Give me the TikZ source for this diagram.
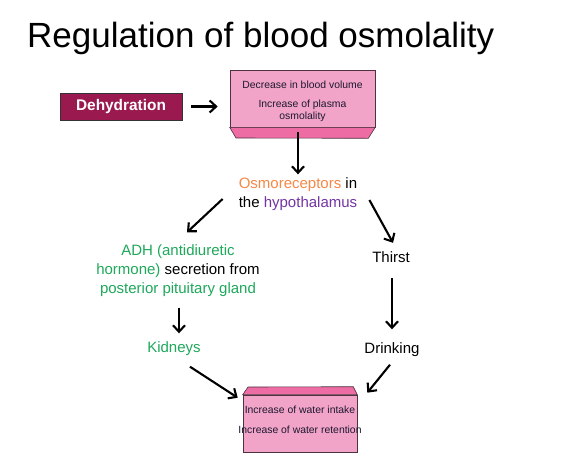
\documentclass[tikz,border=0pt]{standalone}
\usepackage{fontspec}
\setmainfont{Liberation Sans}
\usetikzlibrary{arrows.meta}
\definecolor{dehyd}{HTML}{9A1A4F}
\definecolor{pinkface}{HTML}{F2A4C8}
\definecolor{pinkstrip}{HTML}{EC6CA3}
\definecolor{boxline}{HTML}{4D3340}
\definecolor{boxtext}{HTML}{1C1830}
\definecolor{osmo}{HTML}{F58847}
\definecolor{hypo}{HTML}{7434A3}
\definecolor{adh}{HTML}{1DA85A}

\begin{document}
\begin{tikzpicture}[x=1pt,y=-1pt,
	arr/.style={line width=2.1pt,-{Straight Barb[length=6.5pt,width=12pt,line width=2.1pt]}},
	lbl/.style={font=\fontsize{15}{19}\selectfont, inner sep=3pt, text height=11pt, text depth=3pt},
	pinkbox/.style={draw=boxline, fill=pinkface, line width=.6pt, inner sep=0pt},
	boxtxt/.style={font=\fontsize{10.4}{12.5}\selectfont, text=boxtext, align=center, inner sep=1pt}]
				\useasboundingbox (0,0) rectangle (579,459);
				%% title
				\node[anchor=base west, inner sep=0pt, font=\fontsize{35}{40}\selectfont] (title) at (27,47) {Regulation of blood osmolality};
				%% top row
				\node[draw=black!80, fill=dehyd, text=white, line width=.6pt, minimum width=122pt, minimum height=27pt, inner sep=0pt, font=\fontsize{15.4}{18}\selectfont\bfseries] (dehydration) at (121,106.5) {Dehydration};
				\node[pinkbox, minimum width=145pt, minimum height=57pt] (box1) at (302.5,98.5) {};
				\draw[boxline, fill=pinkstrip, line width=.6pt] (box1.south west) -- (box1.south east) -- ++(-7,11) -- (236,138) -- cycle;
				\node[boxtxt] (box1txt) at (302.5,101.5) {Decrease in blood volume\\[6.5pt] Increase of plasma\\ osmolality};
				%% middle
				\node[lbl, align=left, text height=, text depth=] (osmo) at (298,194) {{\color{osmo}Osmoreceptors} in\\ the {\color{hypo}hypothalamus}};
				\node[lbl, align=center, text height=, text depth=] (adh) at (178,270.5) {{\color{adh}ADH (antidiuretic}\\ {\color{adh}hormone)} secretion from\\ {\color{adh}posterior pituitary gland}};
				\node[lbl] (thirst) at (391,258) {Thirst};
				\node[lbl, text=adh] (kidneys) at (174,348.5) {Kidneys};
				\node[lbl] (drinking) at (392,349.5) {Drinking};
				%% bottom box
				\node[pinkbox, minimum width=114pt, minimum height=57pt] (box2) at (300,423.5) {};
				\draw[boxline, fill=pinkstrip, line width=.6pt] (box2.north west) -- (box2.north east) -- ++(-4,-8) -- (248,387) -- cycle;
				\node[boxtxt] (box2txt) at (300,420) {Increase of water intake\\[7.5pt] Increase of water retention};
				%% arrows
				\draw[arr] (dehydration.east) ++(9,0) -- ([xshift=-12pt]box1.west |- dehydration.east);
				\draw[arr, shorten <=5pt] (box1.south -| osmo.north) -- (osmo.north);
				\draw[arr] ([xshift=-13pt,yshift=-5pt]osmo.west) -- ([xshift=9pt,yshift=9pt]adh.north);
				\draw[arr] ([xshift=9pt,yshift=-6pt]osmo.east) -- ([xshift=2pt,yshift=5pt]thirst.north);
				\draw[arr, shorten <=10pt, shorten >=10pt] (thirst.south -| drinking) -- (drinking.north);
				\draw[arr, shorten <=8pt, shorten >=5pt] (adh.south -| 179,0) -- (kidneys.north -| 179,0);
				\draw[arr] ([xshift=16pt,yshift=-8pt]kidneys.south) -- ([xshift=-5pt,yshift=-3pt]box2.north west);
				\draw[arr] ([xshift=-2pt,yshift=-5pt]drinking.south) -- ([xshift=10pt,yshift=2pt]box2.north east);
\end{tikzpicture}
\end{document}
